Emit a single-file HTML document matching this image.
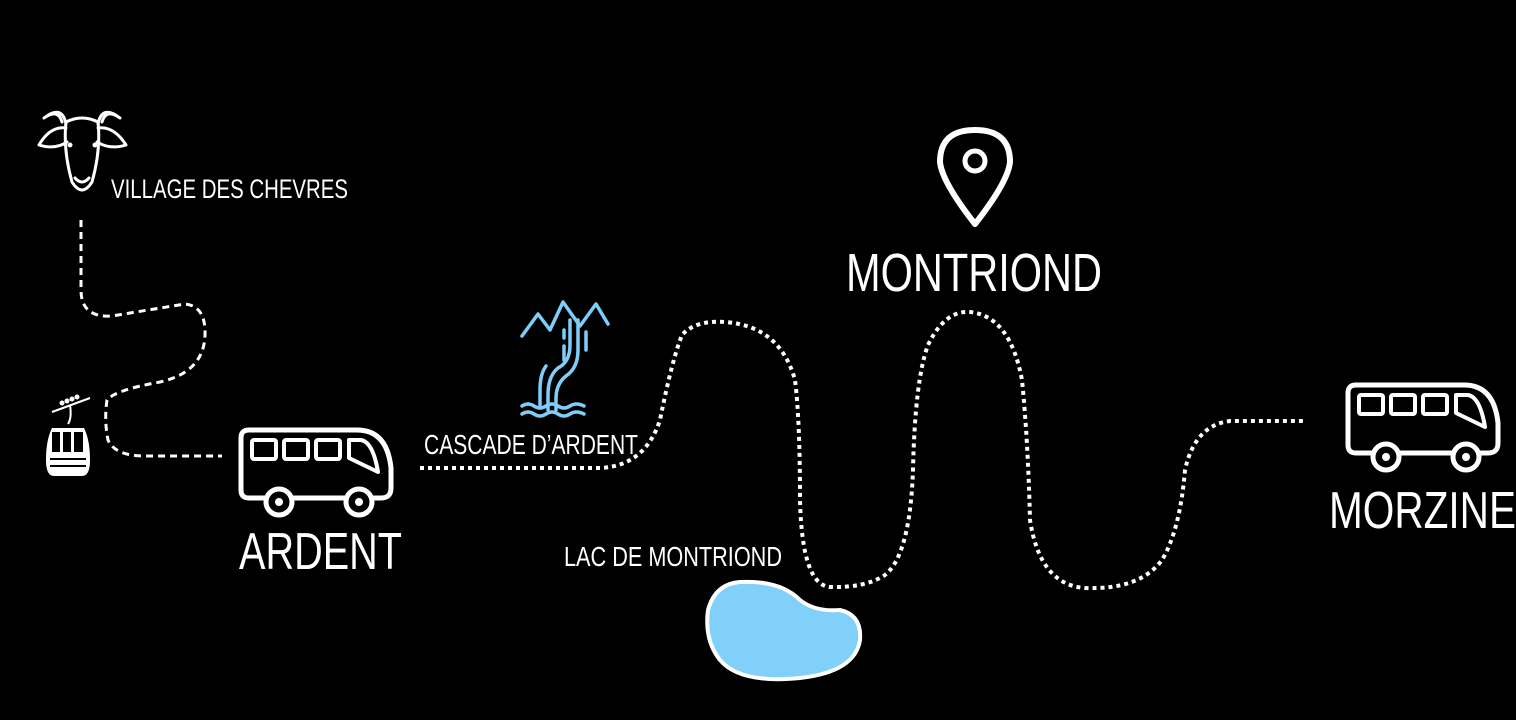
<!DOCTYPE html>
<html><head><meta charset="utf-8"><style>
html,body{margin:0;padding:0;background:#000;}
svg{display:block;}
text{font-family:"Liberation Sans Narrow","Liberation Sans",sans-serif;fill:#fff;}
</style></head><body>
<svg width="1516" height="720" viewBox="0 0 1516 720" xmlns="http://www.w3.org/2000/svg">
<defs>
<g id="bus">
<path d="M10,2 H118 Q148,2 152,40 V60 Q152,70 142,70 H10 Q2,70 2,62 V10 Q2,2 10,2 Z" fill="none" stroke="#fff" stroke-width="5"/>
<rect x="13" y="12" width="24" height="19" rx="2" fill="none" stroke="#fff" stroke-width="4"/>
<rect x="45" y="12" width="24" height="19" rx="2" fill="none" stroke="#fff" stroke-width="4"/>
<rect x="77" y="12" width="24" height="19" rx="2" fill="none" stroke="#fff" stroke-width="4"/>
<path d="M110,12 H122 Q134,14 139,44 L110,30 Z" fill="none" stroke="#fff" stroke-width="4" stroke-linejoin="round"/>
<circle cx="40" cy="74" r="13" fill="#000" stroke="#fff" stroke-width="5"/>
<circle cx="40" cy="74" r="4" fill="#fff"/>
<circle cx="120" cy="74" r="13" fill="#000" stroke="#fff" stroke-width="5"/>
<circle cx="120" cy="74" r="4" fill="#fff"/>
</g>
</defs>

<path d="M81,220 V290 Q81,318 112,316 Q160,308 185,304 Q206,306 205,335 Q204,372 160,382 Q115,390 107,400 Q104,420 108,440 Q115,456 145,456 H222" fill="none" stroke="#fff" stroke-width="3" stroke-dasharray="7,5"/>

<path d="M420,468 H600 Q645,466 660,420 Q672,360 682,335 Q695,320 725,322 Q780,326 795,380 Q800,420 800,500 Q802,585 830,587 Q865,588 885,575 Q910,555 913,470 Q915,380 928,345 Q945,310 970,312 Q1010,316 1022,380 Q1028,440 1030,520 Q1040,585 1085,588 Q1140,590 1162,560 Q1180,530 1185,470 Q1195,425 1230,421 H1305" fill="none" stroke="#fff" stroke-width="4" stroke-dasharray="4,4"/>

<!-- goat -->
<g fill="none" stroke="#fff" stroke-width="3" stroke-linecap="round" stroke-linejoin="round">
<path d="M66,124 Q62,104 44,118 Q58,108 62,122"/>
<path d="M98,124 Q102,104 120,118 Q106,108 102,122"/>
<path d="M66,128 Q50,126 39,145 Q55,150 67,142"/>
<path d="M98,128 Q114,126 126,145 Q110,150 97,142"/>
<path d="M66,122 Q82,114 98,122 Q101,150 92,182 Q82,198 72,182 Q63,150 66,122 Z"/>
<path d="M75,178 Q82,186 89,178"/>
</g>
<circle cx="70" cy="145" r="2.5" fill="#fff"/><circle cx="95" cy="145" r="2.5" fill="#fff"/>

<!-- gondola -->
<line x1="52" y1="412" x2="90" y2="398" stroke="#fff" stroke-width="2"/>
<circle cx="62" cy="403" r="2.5" fill="#fff"/><circle cx="67" cy="401" r="2.5" fill="#fff"/><circle cx="72" cy="399" r="2.5" fill="#fff"/><circle cx="77" cy="397" r="2.5" fill="#fff"/>
<path d="M70,405 Q72,418 68,424" stroke="#fff" stroke-width="2" fill="none"/>
<path d="M52,428 H84 Q90,440 90,460 Q90,476 82,476 H54 Q46,476 46,460 Q46,440 52,428 Z" fill="#fff"/>
<rect x="52" y="432" width="8" height="20" fill="#000"/><rect x="63" y="432" width="8" height="20" fill="#000"/><rect x="74" y="432" width="9" height="20" fill="#000"/>
<rect x="50" y="458" width="36" height="2" fill="#000"/><rect x="50" y="465" width="36" height="2" fill="#000"/>

<!-- waterfall -->
<g fill="none" stroke="#7fcdf8" stroke-width="3.5" stroke-linecap="round" stroke-linejoin="round">
<path d="M522,336 L538,314 L550,330 L563,302 L580,326 L596,304 L608,324"/>
<path d="M570,320 V345 Q570,362 558,368 Q548,376 548,395 V410"/>
<path d="M578,320 V350 Q578,368 566,376 Q556,384 556,398 V410"/>
<path d="M564,330 V338 M564,346 V360 M586,332 V350"/>
<path d="M546,366 Q540,374 540,390 V408"/>
<path d="M522,406 Q528,402 534,406 Q540,410 546,406 Q552,402 558,406 Q564,410 570,406 Q576,402 584,406"/>
<path d="M522,414 Q528,410 534,414 Q540,418 546,414 Q552,410 558,414 Q564,418 570,414 Q576,410 584,414"/>
</g>

<path d="M975,224 Q942,182 940,162 Q940,130 975,130 Q1010,130 1010,162 Q1008,182 975,224 Z" fill="none" stroke="#fff" stroke-width="6" stroke-linejoin="round"/>
<circle cx="975" cy="161" r="10" fill="none" stroke="#fff" stroke-width="5"/>

<path d="M740,582 Q780,580 800,600 Q815,612 840,610 Q862,615 860,640 Q855,672 800,678 Q740,684 720,660 Q704,640 708,610 Q715,584 740,582 Z" fill="#80d0fa" stroke="#fff" stroke-width="4"/>

<use href="#bus" x="239" y="428"/>
<use href="#bus" x="1346" y="383"/>

<text x="111" y="198" font-size="27" textLength="237" lengthAdjust="spacingAndGlyphs">VILLAGE DES CHEVRES</text>
<text x="424" y="454" font-size="28" textLength="214" lengthAdjust="spacingAndGlyphs">CASCADE D’ARDENT</text>
<text x="564" y="566" font-size="28" textLength="218" lengthAdjust="spacingAndGlyphs">LAC DE MONTRIOND</text>
<text x="846" y="291" font-size="54" textLength="256" lengthAdjust="spacingAndGlyphs">MONTRIOND</text>
<text x="239" y="569" font-size="52" textLength="163" lengthAdjust="spacingAndGlyphs">ARDENT</text>
<text x="1329" y="528" font-size="52" textLength="187" lengthAdjust="spacingAndGlyphs">MORZINE</text>
</svg>
</body></html>
